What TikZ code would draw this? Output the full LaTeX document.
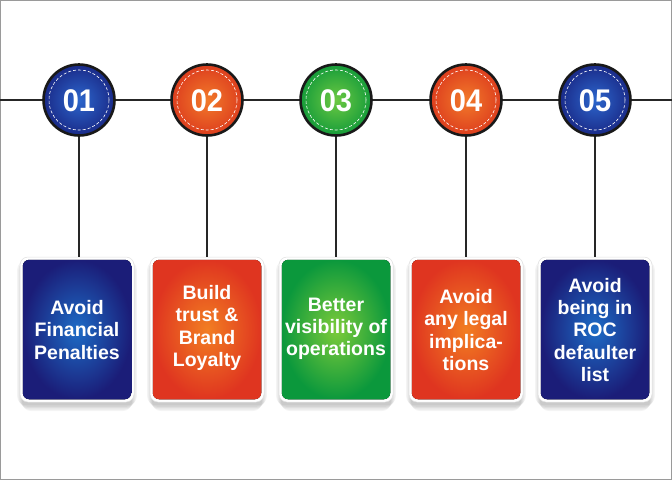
\documentclass[tikz,border=0pt]{standalone}
\usepackage{fontspec}
\setmainfont{Liberation Sans}
\definecolor{bIn}{HTML}{1D6CC6}
\definecolor{bOut}{HTML}{1B1D78}
\definecolor{oIn}{HTML}{F27E22}
\definecolor{oOut}{HTML}{DF3520}
\definecolor{gIn}{HTML}{7CCB3A}
\definecolor{gOut}{HTML}{0B983C}
\definecolor{cbIn}{HTML}{2C66CC}
\definecolor{cbOut}{HTML}{1A2A88}
\definecolor{coIn}{HTML}{F27A2A}
\definecolor{coOut}{HTML}{DD3E1E}
\definecolor{cgIn}{HTML}{6CC942}
\definecolor{cgOut}{HTML}{169C3A}
\definecolor{frame}{HTML}{9A9A9A}
\tikzset{
  wire/.style={line width=2pt, draw=black!85},
  numcirc/.style={circle, minimum size=71pt, inner sep=0pt, line width=2.6pt, draw=black!90},
  cardbox/.style={rectangle, rounded corners=8pt, minimum width=114pt, minimum height=145pt,
     inner sep=0pt, fill=white, draw=black!12, line width=0.5pt},
  cardtext/.style={text=white, align=center, font=\bfseries\fontsize{19.5}{22.3}\selectfont},
  dashring/.style={draw=white, dash pattern=on 3pt off 2pt, line width=0.6pt},
}
\newcommand{\card}[6]{%
  % #1 name, #2 x, #3 inner, #4 outer, #5 text, #6 y of text
  \foreach \k in {1,...,5}{%
    \fill[black, opacity=0.045, rounded corners=9pt]
      (#2-57+1.2*\k-4, 257+3+0.6*\k) rectangle (#2+57-1.2*\k+4, 402+2+1.4*\k);
  }
  \node[cardbox] (#1) at (#2,329.5) {};
  \fill[inner color=#3, outer color=#4, rounded corners=6.5pt]
     ([shift={(3pt,-3pt)}]#1.north west) rectangle ([shift={(-3pt,3pt)}]#1.south east);
  \node[cardtext] (#1t) at (#2,#6) {#5};
}
\newcommand{\numc}[5]{%
  % #1 name, #2 x, #3 inner, #4 outer, #5 label
  \node[numcirc, inner color=#3, outer color=#4] (#1) at (#2,100) {};
  \draw[dashring] (#1.center) circle (30pt);
  \node[text=white, font=\bfseries\fontsize{29}{29}\selectfont] (#1t) at ([yshift=-0.5pt]#1.center) {\scalebox{1}[1.08]{#5}};
}
\begin{document}
\begin{tikzpicture}[x=1pt,y=-1pt]
\useasboundingbox (0,0) rectangle (672,480);
\fill[white] (0,0) rectangle (672,480);
\draw[frame, line width=1.2pt] (0.6,0.6) rectangle (671.4,479.4);
\coordinate (L) at (0,100);
\coordinate (R) at (672,100);
% cards
\card{b1}{77}{bIn}{bOut}{Avoid\\Financial\\Penalties}{330}
\card{b2}{207}{oIn}{oOut}{Build\\trust \&\\Brand\\Loyalty}{328}
\card{b3}{336}{gIn}{gOut}{Better\\visibility of\\operations}{329}
\card{b4}{466}{oIn}{oOut}{Avoid\\any legal\\implica-\\tions}{330}
\card{b5}{595}{bIn}{bOut}{Avoid\\being in\\ROC\\defaulter\\list}{330}
% circles
\numc{c1}{79}{cbIn}{cbOut}{01}
\numc{c2}{207}{coIn}{coOut}{02}
\numc{c3}{336}{cgIn}{cgOut}{03}
\numc{c4}{466}{coIn}{coOut}{04}
\numc{c5}{595}{cbIn}{cbOut}{05}
% connectors
\draw[wire] (L) -- (c1.west);
\draw[wire] (c1.east) -- (c2.west);
\draw[wire] (c2.east) -- (c3.west);
\draw[wire] (c3.east) -- (c4.west);
\draw[wire] (c4.east) -- (c5.west);
\draw[wire] (c5.east) -- (R);
\draw[wire] (c1.south) -- (c1.south |- b1.north);
\draw[wire] (c2.south) -- (b2.north);
\draw[wire] (c3.south) -- (b3.north);
\draw[wire] (c4.south) -- (b4.north);
\draw[wire] (c5.south) -- (b5.north);
\end{tikzpicture}
\end{document}
